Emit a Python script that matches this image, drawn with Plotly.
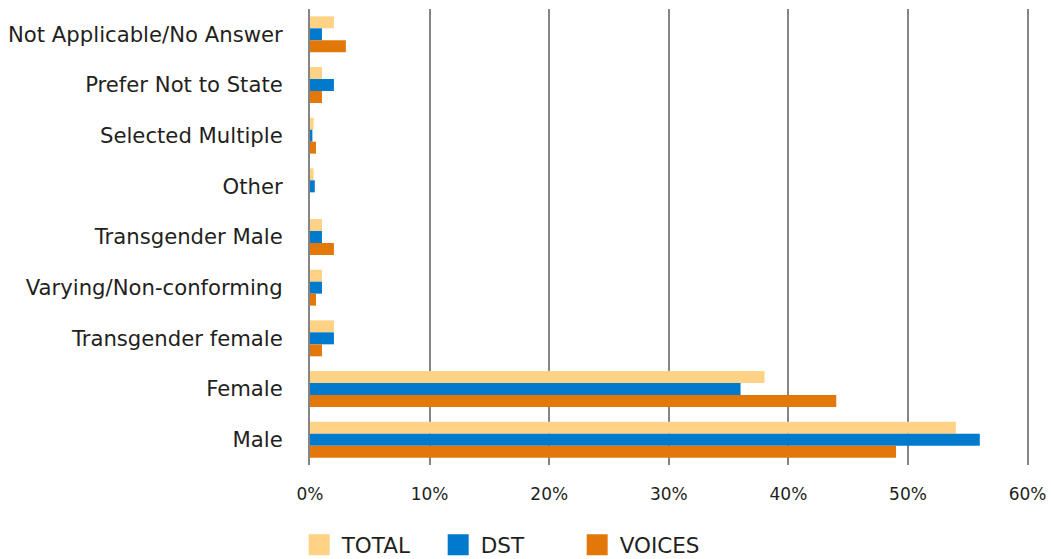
import plotly.graph_objects as go

categories = ["Not Applicable/No Answer", "Prefer Not to State", "Selected Multiple", "Other",
              "Transgender Male", "Varying/Non-conforming", "Transgender female", "Female", "Male"]
total = [2, 1, 0.3, 0.3, 1, 1, 2, 38, 54]
dst = [1, 2, 0.2, 0.4, 1, 1, 2, 36, 56]
voices = [3, 1, 0.5, 0, 2, 0.5, 1, 44, 49]
tick_vals = [0, 10, 20, 30, 40, 50, 60]
tick_text = ["0%", "10%", "20%", "30%", "40%", "50%", "60%"]

series = [("TOTAL", total, "#FFD286"), ("DST", dst, "#007ACC"), ("VOICES", voices, "#E2780A")]

fig = go.Figure()
for name, vals, col in series:
    fig.add_trace(go.Bar(y=categories, x=vals, orientation="h", name=name,
                         marker=dict(color=col, line=dict(width=0)), showlegend=False))
for name, vals, col in series:
    fig.add_trace(go.Scatter(x=[None], y=[None], mode="markers", name=name,
                             marker=dict(symbol="square", size=16, color=col,
                                         line=dict(color=col, width=5))))

font_fam = "DejaVu Sans, sans-serif"
fig.update_layout(
    width=1051, height=559,
    margin=dict(l=310, r=21, t=9, b=94, autoexpand=False),
    barmode="group", bargap=0.29, bargroupgap=0,
    plot_bgcolor="white", paper_bgcolor="white",
    font=dict(family=font_fam, size=21.2, color="#231F20"),
    xaxis=dict(range=[0, 60.2], tickvals=tick_vals, ticktext=tick_text,
               tickfont=dict(size=17),
               showgrid=True, gridcolor="#858585", gridwidth=2,
               zeroline=False, showline=False, ticks="", ticklabelstandoff=17,
               automargin=False, fixedrange=True),
    yaxis=dict(autorange="reversed", showgrid=False, ticks="", ticklabelstandoff=21,
               showline=True, linecolor="#858585", linewidth=2, automargin=False,
               fixedrange=True),
    legend=dict(orientation="h", x=-0.0185, y=-0.13, xanchor="left", yanchor="top",
                font=dict(size=21.5), itemwidth=35, tracegroupgap=0,
                entrywidth=89, entrywidthmode="pixels",
                traceorder="normal"),
)
fig.write_html("out.html", config={"displayModeBar": False},
               post_script="document.body.style.margin='0';document.body.style.overflow='hidden';")
